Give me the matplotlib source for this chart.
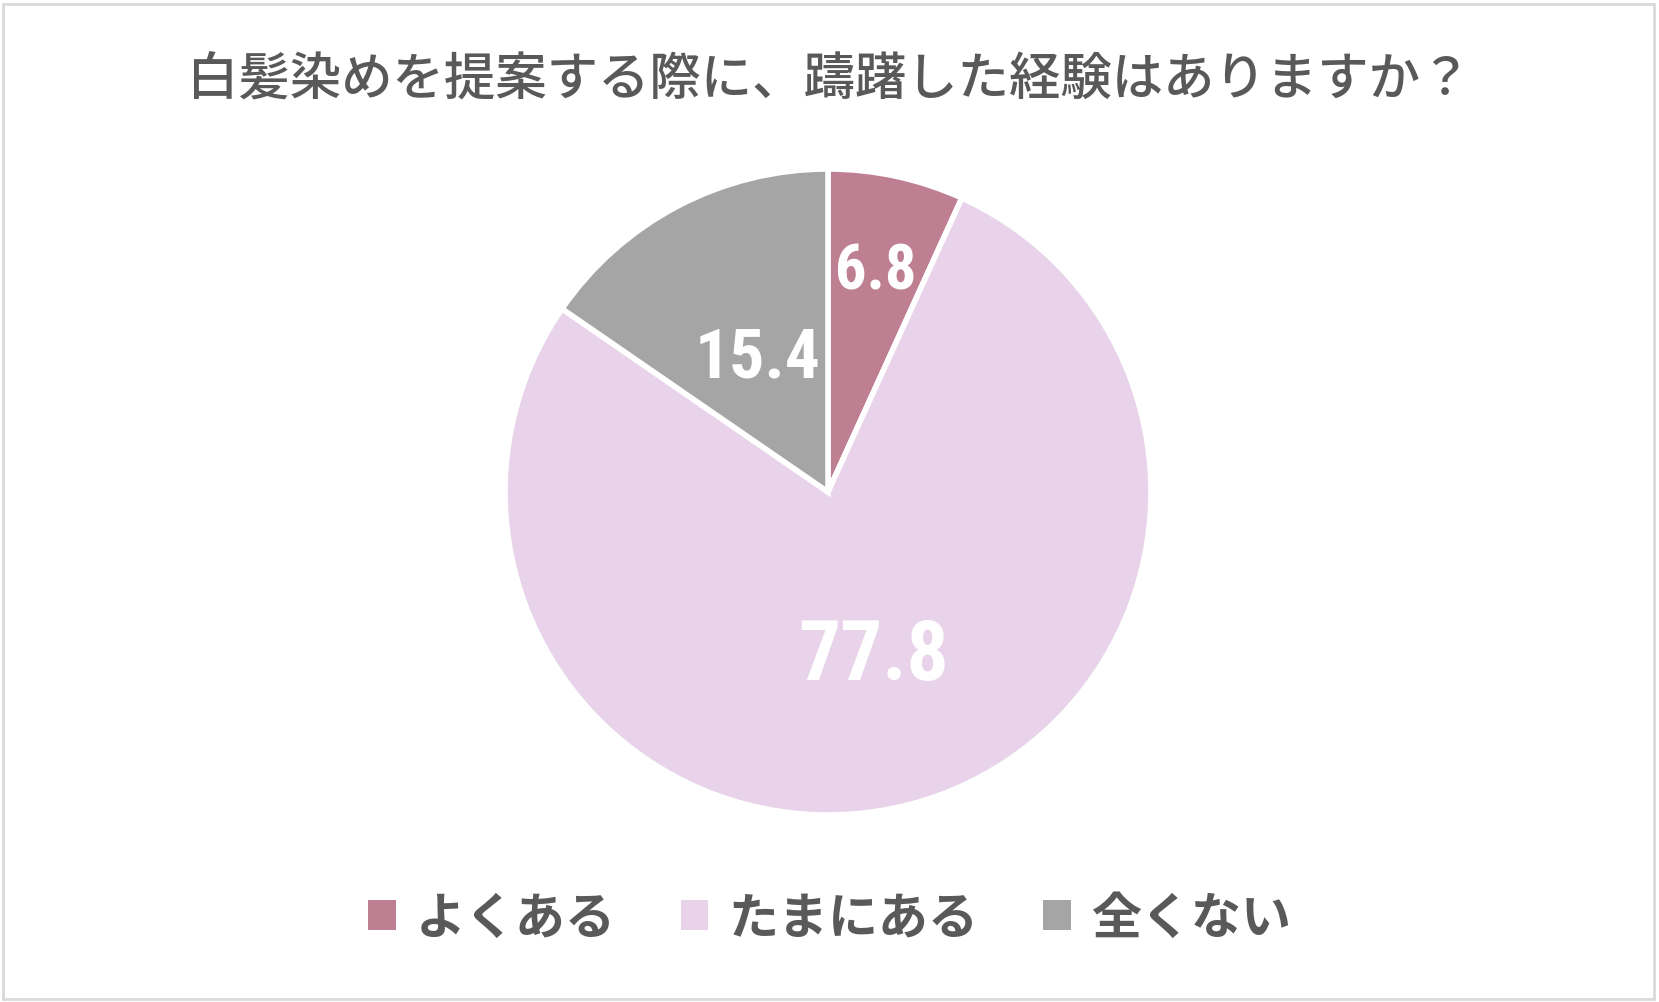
import numpy as np
import matplotlib
matplotlib.use('Agg')
import matplotlib.pyplot as plt
from matplotlib.patches import Rectangle, Patch

plt.rcParams['font.family'] = ['Noto Sans CJK JP', 'DejaVu Sans']

title = '白髪染めを提案する際に、躊躇した経験はありますか？'
labels = ['よくある', 'たまにある', '全くない']
values = [6.8, 77.8, 15.4]
colors = ['#BE7F93', '#E9D3EA', '#A5A5A5']
label_dist = [0.70, 0.53, 0.47]
label_size = [45, 60, 50]
num_fonts = ['Roboto Condensed', 'Liberation Sans Narrow', 'DejaVu Sans']

W, H = 1659, 1003
fig = plt.figure(figsize=(W / 100, H / 100), dpi=100)

# pie centre / radius in pixels
cx, cy, r = 828, 493, 323
ax = fig.add_axes([(cx - r) / W, (H - cy - r) / H, 2 * r / W, 2 * r / H])

wedges, _ = ax.pie(values, colors=colors, startangle=90, counterclock=False,
                   wedgeprops=dict(edgecolor='white', linewidth=4))
ax.set_xlim(-1, 1)
ax.set_ylim(-1, 1)
ax.set_aspect('equal')
ax.axis('off')

for w, v, d, s in zip(wedges, values, label_dist, label_size):
    ang = np.deg2rad((w.theta1 + w.theta2) / 2)
    ax.text(d * np.cos(ang), d * np.sin(ang), '%.1f' % v, ha='center', va='center',
            color='white', fontsize=s, fontweight='bold', family=num_fonts)

fig.text(0.5, 1 - 80 / H, title, ha='center', va='center', fontsize=37,
         color='#595959', fontweight='medium')

handles = [Patch(facecolor=c, edgecolor='none') for c in colors]
leg = fig.legend(handles, labels, loc='center', bbox_to_anchor=(0.5, 1 - 919 / H),
                 ncol=3, frameon=False, handlelength=0.55, handleheight=0.55,
                 handletextpad=0.4, columnspacing=1.3,
                 prop=dict(size=36, weight='bold'))
for t in leg.get_texts():
    t.set_color('#595959')

fig.patches.append(Rectangle((3 / W, 3 / H), 1 - 8 / W, 1 - 8 / H, transform=fig.transFigure,
                             fill=False, edgecolor='#D9D9D9', linewidth=2))

fig.savefig('out.png', dpi=100, facecolor='white')
